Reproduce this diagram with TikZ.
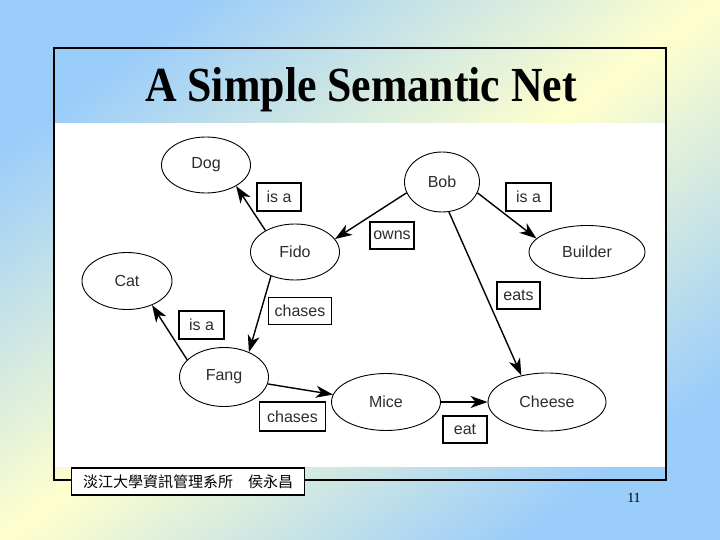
\documentclass[tikz,border=0pt]{standalone}
\usepackage{fontspec}
\setmainfont{Liberation Serif}
\newfontfamily\diagfont{Liberation Sans}
\newfontfamily\cjk{Noto Sans CJK TC}
\usetikzlibrary{arrows.meta,shapes.geometric}
\definecolor{bgblue}{RGB}{155,205,250}
\definecolor{bgyellow}{RGB}{255,255,205}
\definecolor{txtgray}{RGB}{45,45,45}
\begin{document}
\begin{tikzpicture}[x=1pt,y=-1pt,
  concept/.style={ellipse,draw,line width=0.9pt,inner sep=0pt,minimum height=56pt,
    font=\diagfont\fontsize{16}{16}\selectfont,text=txtgray},
  rel/.style={draw,line width=1.3pt,inner sep=0pt,minimum height=27pt,fill=white,
    font=\diagfont\fontsize{16}{16}\selectfont,text=txtgray},
  link/.style={line width=1.4pt,-{Stealth[length=17pt,width=12pt,inset=5pt]}}]
\useasboundingbox (0,0) rectangle (720,540);
\shade[top color=bgblue,bottom color=bgblue,middle color=bgyellow,shading angle=37] (0,0) rectangle (720,540);
\fill[white] (55,123) rectangle (665,467);
\draw[line width=1.3pt] (54,48) rectangle (666,480);
% title
\node[font=\bfseries\fontsize{49}{49}\selectfont,anchor=base,inner sep=0pt] (title) at (361,102) {\scalebox{0.894}[1]{A Simple Semantic Net}};
% concepts
\node[concept,minimum width=89pt] (dog) at (206,165) {Dog};
\node[concept,minimum width=75pt,minimum height=60pt] (bob) at (442,182) {Bob};
\node[concept,minimum width=89pt] (fido) at (295,252) {Fido};
\node[concept,minimum width=116pt,minimum height=53pt] (builder) at (587,252) {Builder};
\node[concept,minimum width=90pt,minimum height=57pt] (cat) at (127,281) {Cat};
\node[concept,minimum width=89pt,minimum height=59pt] (fang) at (224,377) {Fang};
\node[concept,minimum width=109pt,minimum height=57pt] (mice) at (386,402) {Mice};
\node[concept,minimum width=118pt,minimum height=58pt] (cheese) at (547,402) {Cheese};
% relation labels
\node[rel,minimum width=44pt,minimum height=28pt] (l1) at (279,197) {is a};
\node[rel,minimum width=44pt] (l2) at (392,235.5) {owns};
\node[rel,minimum width=45pt,minimum height=28pt] (l3) at (528.5,197) {is a};
\node[rel,minimum width=43pt] (l4) at (518.5,295.5) {eats};
\node[rel,minimum width=63pt] (l5) at (300,311) {chases};
\node[rel,minimum width=45pt,minimum height=28pt] (l6) at (201.5,325) {is a};
\node[rel,minimum width=66pt,minimum height=29pt] (l7) at (292.5,416.5) {chases};
\node[rel,minimum width=44pt] (l8) at (465,429.5) {eat};
% links
\draw[link] (fido.144) -- (dog.-35);
\draw[link] (bob.-163) -- (fido.18);
\draw[link] (bob.-17) -- (builder.165);
\draw[link] (bob.-77) -- (cheese.134);
\draw[link] (fido.-135) -- (fang.45);
\draw[link] (fang.155) -- (cat.-44);
\draw[link] (fang.-9) -- (mice.172);
\draw[link] (mice.0) -- (cheese.180);
% footer
\node[draw,line width=1.3pt,fill=white,minimum width=233pt,minimum height=27pt,inner sep=0pt,
  font=\cjk\fontsize{15}{15}\selectfont] (footer) at (188,481.5) {淡江大學資訊管理系所　侯永昌};
\node[font=\fontsize{14}{14}\selectfont,inner sep=0pt] (pagenum) at (634,498) {11};
\end{tikzpicture}
\end{document}
